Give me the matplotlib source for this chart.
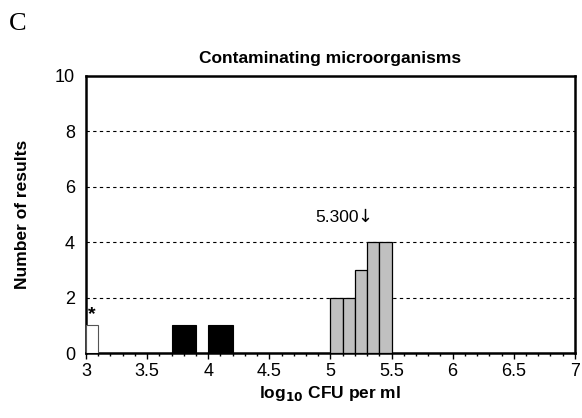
import matplotlib
matplotlib.use('Agg')
import matplotlib.pyplot as plt

plt.rcParams['font.family'] = ['Liberation Sans', 'DejaVu Sans']

# histogram bins (left edge, count), bin width 0.1 log10 CFU/ml
white_x = [3.0]
white_n = [1]
black_x = [3.7, 3.8, 4.0, 4.1]
black_n = [1, 1, 1, 1]
grey_x = [5.0, 5.1, 5.2, 5.3, 5.4]
grey_n = [2, 2, 3, 4, 4]
assigned = 5.300
xticks = [3, 3.5, 4, 4.5, 5, 5.5, 6, 6.5, 7]
xtick_labels = ['3', '3.5', '4', '4.5', '5', '5.5', '6', '6.5', '7']
yticks = [0, 2, 4, 6, 8, 10]

fig = plt.figure(figsize=(5.82, 4.18), dpi=100)
ax = fig.add_axes([0.1478, 0.1555, 0.840, 0.6627])

ax.bar(white_x, white_n, width=0.1, align='edge', color='white', edgecolor='#555555', lw=0.8, zorder=3)
ax.bar(black_x, black_n, width=0.1, align='edge', color='black', edgecolor='black', lw=0.8, zorder=3)
ax.bar(grey_x, grey_n, width=0.1, align='edge', color='#c0c0c0', edgecolor='black', lw=0.9, zorder=3)

ax.text(white_x[0] + 0.05, white_n[0] + 0.08, '*', ha='center', va='bottom', fontsize=14, fontweight='bold')
ax.text(assigned - 0.07, 4.9, '%.3f' % assigned, ha='right', va='center', fontsize=12.5)
ax.text(assigned - 0.02, 4.9, '\u2193', ha='center', va='center', fontsize=13, family='DejaVu Sans')

for yv in yticks[1:-1]:
    ax.axhline(yv, color='black', lw=0.8, ls=(0, (3, 3)), zorder=1)

ax.set_xlim(3, 7)
ax.set_ylim(0, 10)
ax.set_xticks(xticks)
ax.set_xticklabels(xtick_labels)
ax.set_xticks([3 + 0.1 * i for i in range(41)], minor=True)
ax.set_yticks(yticks)
ax.tick_params(axis='x', which='major', length=4, width=1, labelsize=13, pad=3)
ax.tick_params(axis='x', which='minor', length=2.5, width=1)
ax.tick_params(axis='y', length=0, labelsize=13, pad=8)
for sp in ax.spines.values():
    sp.set_linewidth(1.8)

ax.set_title('Contaminating microorganisms', fontsize=12.5, fontweight='bold', pad=9)
ax.set_xlabel('log$_{\\mathbf{10}}$ CFU per ml', fontsize=12.5, fontweight='bold', labelpad=3)
ax.set_ylabel('Number of results', fontsize=12.5, fontweight='bold', labelpad=18)

fig.text(0.015, 0.928, 'C', fontsize=19, family='Liberation Serif')

fig.savefig('out.png', dpi=100)
